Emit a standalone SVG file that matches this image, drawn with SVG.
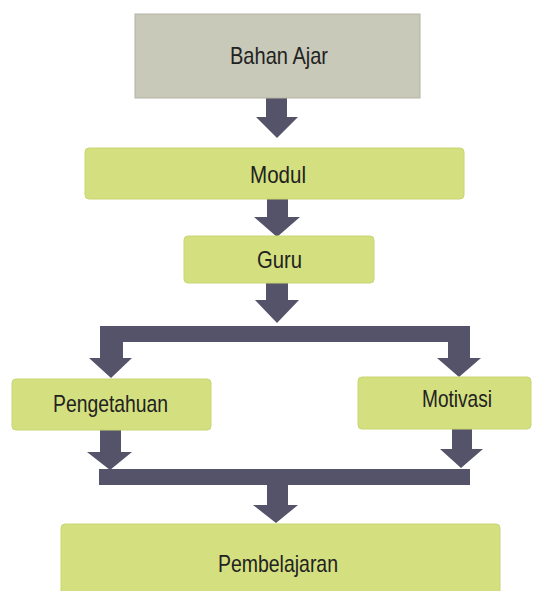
<svg xmlns="http://www.w3.org/2000/svg" width="544" height="591" viewBox="0 0 544 591">
<style>
.grey{fill:#c9c9b9;stroke:#b3b3a3;stroke-width:1}
.green{fill:#d4e07f;stroke:#c8d672;stroke-width:1}
.lbl{font-family:"Liberation Sans Narrow","Liberation Sans",Arial,sans-serif;font-size:24px;fill:#222222}
.arr{fill:#55536a}
</style>
<rect width="544" height="591" fill="#ffffff"/>
<g id="connectors">
<polygon class="arr" points="266,98 287,98 287,117 298,117 277,138 256,117 266,117"/>
<polygon class="arr" points="267,199 288,199 288,217 300,217 277,237 254,217 267,217"/>
<polygon class="arr" points="266,283 288,283 288,300 299,300 277,323 255,300 266,300"/>
<rect class="arr" x="100" y="326" width="370" height="16"/>
<polygon class="arr" points="100,342 123,342 123,358 132,358 111,378 89,358 100,358"/>
<polygon class="arr" points="448,342 470,342 470,358 481,358 459,377 437,358 448,358"/>
<polygon class="arr" points="100,430 121,430 121,452 132,452 110,470 87,452 100,452"/>
<polygon class="arr" points="452,429 472,429 472,449 483,449 461,468 440,449 452,449"/>
<rect class="arr" x="99" y="469" width="371" height="16"/>
<polygon class="arr" points="267,485 288,485 288,505 298,505 276,523 253,505 267,505"/>
</g>
<g id="bahan-ajar">
<rect class="grey" x="135" y="14" width="285" height="84"/>
<text class="lbl" x="230" y="64" textLength="98" lengthAdjust="spacingAndGlyphs">Bahan Ajar</text>
</g>
<g id="modul">
<rect class="green" x="85" y="148" width="379" height="51" rx="4"/>
<text class="lbl" x="250" y="183" textLength="56" lengthAdjust="spacingAndGlyphs">Modul</text>
</g>
<g id="guru">
<rect class="green" x="184" y="236" width="190" height="47" rx="4"/>
<text class="lbl" x="257" y="268" textLength="45" lengthAdjust="spacingAndGlyphs">Guru</text>
</g>
<g id="pengetahuan">
<rect class="green" x="12" y="379" width="199" height="51" rx="4"/>
<text class="lbl" x="53" y="412" textLength="115" lengthAdjust="spacingAndGlyphs">Pengetahuan</text>
</g>
<g id="motivasi">
<rect class="green" x="358" y="377" width="173" height="52" rx="4"/>
<text class="lbl" x="422" y="407" textLength="70" lengthAdjust="spacingAndGlyphs">Motivasi</text>
</g>
<g id="pembelajaran">
<rect class="green" x="61" y="524" width="439" height="80" rx="4"/>
<text class="lbl" x="218" y="572" textLength="120" lengthAdjust="spacingAndGlyphs">Pembelajaran</text>
</g>
</svg>
